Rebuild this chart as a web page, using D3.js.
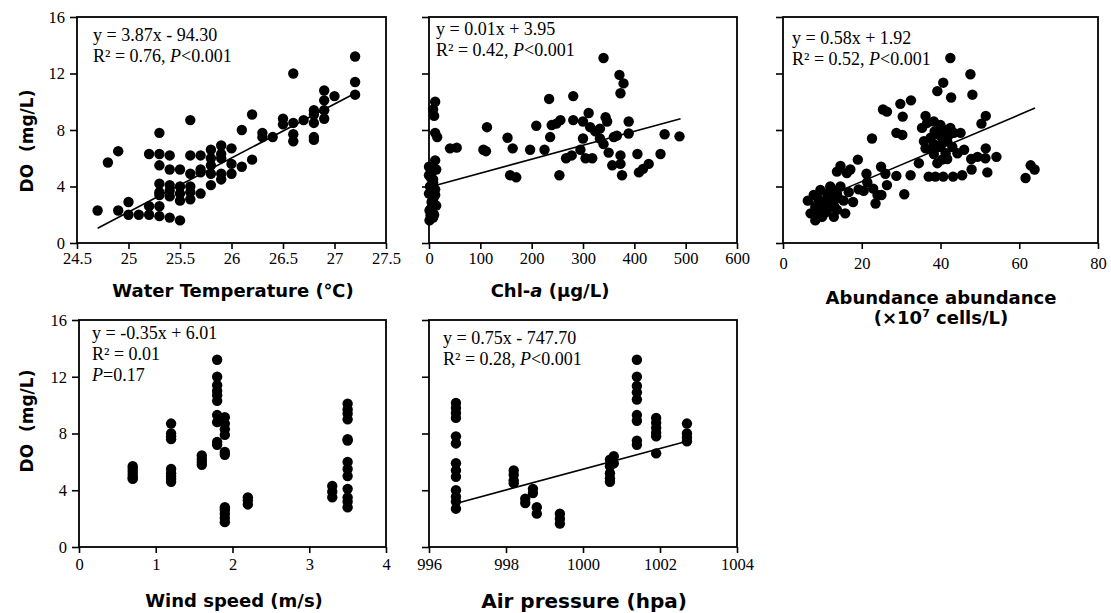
<!DOCTYPE html>
<html>
<head>
<meta charset="utf-8">
<script src="https://cdn.jsdelivr.net/npm/d3@7"></script>
<style>
  body { margin: 0; background: #fff; }
  svg { display: block; }
</style>
</head>
<body>
<svg id="chart" width="1111" height="613"></svg>
<script>
// ---------------------------------------------------------------- //
// Data

var doTicks = [0, 4, 8, 12, 16];

// Water temperature vs DO
var tempX = [24.7,24.8,24.9,24.9,25.0,25.0,25.1,25.2,25.2,25.2,25.3,25.3,25.3,25.3,25.3,25.3,25.3,25.3,
  25.4,25.4,25.4,25.4,25.4,25.4,25.5,25.5,25.5,25.5,25.5,25.6,25.6,25.6,25.6,25.6,25.6,25.7,25.7,25.7,25.7,
  25.8,25.8,25.8,25.8,25.8,25.9,25.9,25.9,25.9,25.9,26.0,26.0,26.0,26.1,26.1,26.2,26.2,26.3,26.3,26.4,
  26.5,26.5,26.6,26.6,26.6,26.6,26.7,26.8,26.8,26.8,26.8,26.8,26.9,26.9,26.9,26.9,27.0,27.2,27.2,27.2];
var tempDO = [2.3,5.7,6.5,2.3,2.9,2.0,2.0,6.3,2.6,2.0,7.8,6.3,5.5,4.2,3.4,3.6,2.6,1.9,
  6.2,5.2,4.1,3.3,3.7,1.8,5.2,4.0,3.0,3.5,1.6,8.7,6.2,4.9,4.0,3.1,3.6,6.2,5.2,5.0,3.5,
  6.6,6.0,5.5,4.9,4.1,6.9,6.3,6.0,4.9,4.5,6.7,5.6,4.9,8.0,5.4,9.1,5.9,7.8,7.5,7.5,
  8.8,8.4,12.0,8.5,7.7,7.2,8.7,9.4,9.1,8.5,7.5,7.3,10.8,10.1,9.4,8.8,10.4,13.2,11.4,10.5];
var tempFitX = [24.7, 27.2], tempFitY = [1.05, 10.6];
var tempTicks = [24.5, 25, 25.5, 26, 26.5, 27, 27.5];

// Chl-a vs DO
var chlX = [12,8,10,12,16,12,0,5,8,2,12,0,8,14,1,3,1,8,5,0,12,5,3,8,14,6,10,4,
  41,54,106,111,113,153,163,158,170,197,209,225,234,239,236,248,256,254,267,281,278,281,
  300,300,305,311,314,318,324,333,340,340,344,347,350,357,360,366,371,379,373,373,373,376,
  389,389,406,409,417,428,451,459,488,333,295];
var chlDO = [10.0,9.45,9.0,7.8,7.5,5.85,5.4,5.0,4.5,4.0,3.8,3.5,3.1,2.65,2.3,1.95,1.6,4.3,5.3,4.8,3.4,2.9,2.4,1.8,5.2,3.7,2.0,4.6,
  6.7,6.75,6.6,6.5,8.2,7.45,6.7,4.8,4.65,6.6,8.3,6.6,10.2,8.35,7.5,8.45,8.7,4.8,6.0,10.4,6.2,8.7,
  8.6,7.4,6.0,9.2,8.2,6.0,7.9,7.4,13.1,7.0,8.9,8.6,6.4,5.5,7.5,7.6,11.9,11.3,10.6,6.2,5.6,4.8,
  8.6,7.75,6.3,5.0,5.25,5.6,6.3,7.7,7.55,8.1,6.6];
var chlFitX = [12, 490], chlFitY = [4.07, 8.8];
var chlTicks = [0, 100, 200, 300, 400, 500, 600];

// Algal abundance vs DO
var abuX = [42.5,47.6,40.7,39.2,42.7,48.1,32.5,29.8,30.4,25.4,26.4,28.8,30.3,22.6,36.2,35.3,36.6,38.3,40.0,42.5,
  43.4,45.1,39.2,37.5,35.8,40.4,41.7,38.3,40.0,36.2,43.0,46.0,44.3,41.3,38.3,40.4,39.2,41.7,47.8,49.4,
  51.4,51.5,54.2,50.4,51.5,47.9,51.9,45.5,43.2,40.7,38.7,37.0,32.4,34.5,28.8,30.8,61.6,62.9,63.9,19.0,
  21.2,24.9,26.0,26.4,22.9,23.5,25.0,21.4,19.2,17.1,14.6,13.7,16.2,15.4,17.8,15.8,12.0,9.5,7.8,6.3,
  8.2,7.0,8.2,9.9,11.2,12.0,13.7,12.9,10.8,9.5,14.6,13.7,9.1,11.2,16.7,20.5,24.0,
  10.5,11.8,13.0,8.8,10.0,12.5,14.0,9.0,11.0,38.5,41.0,39.8,37.8,42.0];
var abuDO = [13.1,11.95,11.35,10.75,10.3,10.5,10.1,9.85,8.95,9.45,9.3,7.8,7.65,7.4,9.0,8.15,8.5,8.6,8.35,8.15,
  7.8,7.8,7.7,7.45,7.2,7.45,7.2,7.0,6.8,6.7,6.8,6.6,6.35,6.35,6.3,5.9,5.65,5.95,5.95,6.1,
  6.0,6.7,6.1,8.45,9.0,5.2,5.0,4.8,4.7,4.7,4.7,4.7,4.8,5.65,4.75,3.45,4.6,5.5,5.2,5.9,
  4.9,5.4,4.9,4.1,3.85,2.8,3.4,4.3,3.8,5.2,5.45,5.05,4.95,3.0,2.9,2.1,4.0,3.75,3.4,3.0,
  2.55,2.1,1.6,1.85,2.35,3.25,3.5,1.85,3.0,2.55,4.0,2.35,2.1,3.5,3.6,3.7,3.4,
  2.8,3.0,2.6,2.3,1.9,3.8,3.2,3.1,2.2,7.9,8.0,6.9,6.6,7.6];
var abuFitX = [6, 64], abuFitY = [2.7, 9.55];
var abuTicks = [0, 20, 40, 60, 80];

// Wind speed vs DO
var windX = [0.7,0.7,0.7,0.7,0.7,0.7, 1.2,1.2,1.2,1.2,1.2,1.2,1.2,1.2,1.2, 1.6,1.6,1.6,1.6,
  1.8,1.8,1.8,1.8,1.8,1.8,1.8,1.8,1.8,1.8, 1.9,1.9,1.9,1.9,1.9,1.9,1.9,1.9,1.9,1.9,1.9,
  2.2,2.2,2.2, 3.3,3.3,3.3, 3.5,3.5,3.5,3.5,3.5,3.5,3.5,3.5,3.5,3.5,3.5,3.5,3.5];
var windDO = [5.7,5.5,5.3,5.1,4.9,4.8, 8.7,8.0,7.8,7.6,5.5,5.2,5.0,4.8,4.6, 6.45,6.2,6.0,5.8,
  13.2,12.0,11.4,11.0,10.7,10.3,9.3,8.8,7.4,7.2, 9.15,8.7,8.3,7.9,6.7,6.5,2.8,2.6,2.35,2.05,1.75,
  3.5,3.3,3.0, 4.3,3.9,3.5, 10.1,9.7,9.4,9.0,7.6,7.5,6.0,5.5,5.0,4.1,3.5,3.2,2.8];
var windTicks = [0, 1, 2, 3, 4];

// Air pressure vs DO
var presX = [996.7,996.7,996.7,996.7,996.7,996.7,996.7,996.7,996.7,996.7,996.7,996.7,996.7,
  998.2,998.2,998.2,998.2, 998.5,998.5, 998.7,998.7, 998.8,998.8, 999.4,999.4,999.4,
  1000.7,1000.7,1000.7,1000.7,1000.7, 1000.8,1000.8,
  1001.4,1001.4,1001.4,1001.4,1001.4,1001.4,1001.4,1001.4,1001.4,
  1001.9,1001.9,1001.9,1001.9,1001.9,1001.9, 1002.7,1002.7,1002.7,1002.7];
var presDO = [10.15,9.8,9.45,9.1,7.8,7.3,5.9,5.4,4.95,4.0,3.55,3.2,2.7,
  5.4,5.1,4.7,4.5, 3.4,3.1, 4.1,3.8, 2.8,2.35, 2.35,2.0,1.65,
  6.15,5.7,5.2,4.85,4.6, 6.4,5.9,
  13.2,12.0,11.35,10.9,10.4,9.3,8.9,7.5,7.2,
  9.1,8.75,8.4,8.05,7.8,6.6, 8.7,8.0,7.7,7.45];
var presFitX = [996.7, 1002.7], presFitY = [3.07, 7.45];
var presTicks = [996, 998, 1000, 1002, 1004];

// ---------------------------------------------------------------- //
// Layout

var panels = [
  { xs: tempX, ys: tempDO, fx: tempFitX, fy: tempFitY, ticks: tempTicks, domain: [24.5, 27.5],
    left: 77, right: 386, top: 17, bottom: 243, yLabels: true, tickPad: 3,
    eq: [['y = 3.87x - 94.30'], ['R² = 0.76, ', {i: 'P'}, '<0.001']], eqX: 93, eqY: 41 },
  { xs: chlX, ys: chlDO, fx: chlFitX, fy: chlFitY, ticks: chlTicks, domain: [0, 600],
    left: 429, right: 737, top: 17, bottom: 243, yLabels: false, tickPad: 3,
    eq: [['y = 0.01x + 3.95'], ['R² = 0.42, ', {i: 'P'}, '<0.001']], eqX: 436, eqY: 35 },
  { xs: abuX, ys: abuDO, fx: abuFitX, fy: abuFitY, ticks: abuTicks, domain: [0, 80],
    left: 783, right: 1098, top: 17, bottom: 243, yLabels: false, tickPad: 8,
    eq: [['y = 0.58x + 1.92'], ['R² = 0.52, ', {i: 'P'}, '<0.001']], eqX: 792, eqY: 44 },
  { xs: windX, ys: windDO, fx: null, fy: null, ticks: windTicks, domain: [0, 4],
    left: 79, right: 386, top: 320, bottom: 547, yLabels: true, tickPad: 5,
    eq: [['y = -0.35x + 6.01'], ['R² = 0.01'], [{i: 'P'}, '=0.17']], eqX: 92, eqY: 339 },
  { xs: presX, ys: presDO, fx: presFitX, fy: presFitY, ticks: presTicks, domain: [996, 1004],
    left: 429, right: 737, top: 320, bottom: 547, yLabels: false, tickPad: 5,
    eq: [['y = 0.75x - 747.70'], ['R² = 0.28, ', {i: 'P'}, '<0.001']], eqX: 443, eqY: 344 }
];

var svg = d3.select('#chart');
var serif = '"Liberation Serif", "Times New Roman", serif';
var sans = '"DejaVu Sans", Verdana, sans-serif';

panels.forEach(function(p){
  var x = d3.scaleLinear().domain(p.domain).range([p.left, p.right]);
  var y = d3.scaleLinear().domain([0, 16]).range([p.bottom, p.top]);
  var g = svg.append('g');

  // x axis
  var xa = g.append('g').attr('transform', 'translate(0,' + p.bottom + ')')
    .call(d3.axisBottom(x).tickValues(p.ticks).tickSize(6).tickPadding(p.tickPad).tickFormat(d3.format('')));
  // y axis
  var ya = g.append('g').attr('transform', 'translate(' + p.left + ',0)')
    .call(d3.axisLeft(y).tickValues(doTicks).tickSize(7).tickPadding(5)
      .tickFormat(p.yLabels ? d3.format('d') : function(){ return ''; }));
  [xa, ya].forEach(function(a){
    a.select('.domain').remove();
    a.selectAll('line').attr('stroke', '#000').attr('stroke-width', 1.6);
    a.selectAll('text').attr('fill', '#000').style('font-family', serif).style('font-size', '16.5px');
  });

  // frame
  g.append('rect').attr('x', p.left).attr('y', p.top)
    .attr('width', p.right - p.left).attr('height', p.bottom - p.top)
    .attr('fill', 'none').attr('stroke', '#000').attr('stroke-width', 1.8);

  // points
  g.append('g').selectAll('circle').data(p.xs).join('circle')
    .attr('cx', function(d){ return x(d); })
    .attr('cy', function(d, i){ return y(p.ys[i]); })
    .attr('r', 5.2).attr('fill', '#000');

  // fitted line
  if (p.fx) {
    g.append('line')
      .attr('x1', x(p.fx[0])).attr('y1', y(p.fy[0]))
      .attr('x2', x(p.fx[1])).attr('y2', y(p.fy[1]))
      .attr('stroke', '#000').attr('stroke-width', 1.6);
  }

  // equation text
  p.eq.forEach(function(parts, k){
    var t = g.append('text').attr('x', p.eqX).attr('y', p.eqY + k * 21)
      .style('font-family', serif).style('font-size', '18px').attr('fill', '#000')
      .style('white-space', 'pre');
    parts.forEach(function(s){
      if (typeof s === 'string') t.append('tspan').text(s);
      else t.append('tspan').style('font-style', 'italic').text(s.i);
    });
  });
});

// ---------------------------------------------------------------- //
// Axis titles

function title(txt, cx, cy, size, rot){
  return svg.append('text')
    .attr('transform', 'translate(' + cx + ',' + cy + ')' + (rot ? ' rotate(-90)' : ''))
    .attr('text-anchor', 'middle')
    .style('font-family', sans).style('font-weight', 'bold').style('font-size', size + 'px')
    .style('white-space', 'pre').attr('fill', '#000').text(txt);
}

title('DO  (mg/L)', 33, 141, 17, true);
title('DO  (mg/L)', 33, 421, 17, true);
title('Water Temperature (℃)', 233, 297, 18);
var chl = title('Chl-', 550, 297, 18);
chl.append('tspan').style('font-style', 'italic').text('a');
chl.append('tspan').text(' (μg/L)');
title('Abundance abundance', 941, 304, 18);
var ab = title('(×10', 941, 324, 18);
ab.append('tspan').attr('dy', -7).style('font-size', '11px').text('7');
ab.append('tspan').attr('dy', 7).text(' cells/L)');
title('Wind speed (m/s)', 234, 607, 18);
title('Air pressure (hpa)', 584, 608, 20);
</script>
</body>
</html>
